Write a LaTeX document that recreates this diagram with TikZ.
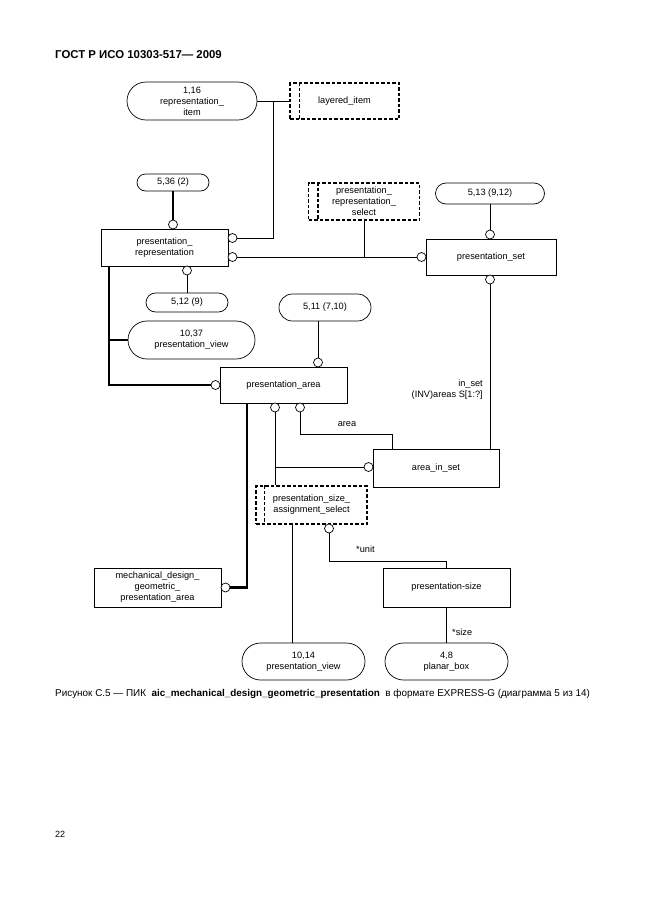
\documentclass[tikz,border=0pt]{standalone}
\usepackage{fontspec}
\setmainfont{Liberation Sans}
\usetikzlibrary{shapes.misc,calc}
\begin{document}
\begin{tikzpicture}[x=1pt,y=-1pt,
  lbl/.style={font=\fontsize{9.2}{11}\selectfont, align=center, inner sep=0pt},
  ent/.style={lbl, draw, line width=0.7pt, rectangle},
  ref/.style={lbl, draw, line width=0.7pt, rounded rectangle},
  sel/.style={lbl, draw, line width=1.3pt, dash pattern=on 3.5pt off 2pt},
  seldash/.style={line width=1.3pt, dash pattern=on 3.5pt off 2pt},
  circ/.style={circle, draw, fill=white, line width=0.7pt, minimum size=9pt, inner sep=0pt},
  ln/.style={line width=0.7pt},
  thk/.style={line width=2.2pt},
  small/.style={font=\fontsize{9.2}{10.5}\selectfont, inner sep=0pt}
]
\useasboundingbox (0,0) rectangle (646,913);
\fill[white] (0,0) rectangle (646,913);

% header, caption, page number
\node[anchor=west, inner sep=0pt, font=\fontsize{11.4}{13}\selectfont\bfseries] (hdr) at (55,55) {ГОСТ Р ИСО 10303-517— 2009};
\node[anchor=west, inner sep=0pt, font=\fontsize{9.9}{12}\selectfont] (cap) at (55,694) {Рисунок С.5 — ПИК\ \ \textbf{aic\_mechanical\_design\_geometric\_presentation}\ \ в формате EXPRESS-G (диаграмма 5 из 14)};
\node[anchor=west, inner sep=0pt, font=\fontsize{9}{11}\selectfont] (pg) at (55,834) {22};

% boxes
\node[ref, minimum width=130pt, minimum height=38pt] (ri) at (192,101) {1,16\\representation\_\\item};
\node[sel, minimum width=109pt, minimum height=36pt] (li) at (344.5,101) {layered\_item};
\node[ref, minimum width=72pt, minimum height=17pt] (p536) at (173,182.5) {5,36 (2)};
\node[ent, minimum width=127pt, minimum height=37pt] (prep) at (164.5,247.5) {presentation\_\\representation};
\node[sel, minimum width=111pt, minimum height=37pt] (prs) at (364,201.5) {presentation\_\\representation\_\\select};
\node[ref, minimum width=109pt, minimum height=21pt] (p513) at (490,193.5) {5,13 (9,12)};
\node[ent, minimum width=130pt, minimum height=36pt] (pset) at (491,257) {presentation\_set};
\node[ref, minimum width=82pt, minimum height=19pt] (p512) at (187,302.5) {5,12 (9)};
\node[ref, minimum width=127pt, minimum height=38pt] (pv1037) at (191.5,340) {10,37\\presentation\_view};
\node[ref, minimum width=92pt, minimum height=27pt] (p511) at (325,307.5) {5,11 (7,10)};
\node[ent, minimum width=127pt, minimum height=36pt] (parea) at (283.5,385) {presentation\_area};
\node[ent, minimum width=126pt, minimum height=38pt] (ais) at (436,468) {area\_in\_set};
\node[sel, minimum width=111pt, minimum height=38pt] (psas) at (311.5,505) {presentation\_size\_\\assignment\_select};
\node[ent, minimum width=127pt, minimum height=39pt] (mdg) at (157.5,587.5) {mechanical\_design\_\\geometric\_\\presentation\_area};
\node[ent, minimum width=127pt, minimum height=39pt] (psize) at (446.5,587.5) {presentation-size};
\node[ref, minimum width=123pt, minimum height=37pt] (pv1014) at (303.5,661.5) {10,14\\presentation\_view};
\node[ref, minimum width=123pt, minimum height=37pt] (pbox) at (446.5,661.5) {4,8\\planar\_box};

% select inner lines
\draw[seldash] ([xshift=10pt]li.north west) -- ([xshift=10pt]li.south west);
\draw[seldash] ([xshift=10pt]prs.north west) -- ([xshift=10pt]prs.south west);
\draw[seldash] ([xshift=9pt]psas.north west) -- ([xshift=9pt]psas.south west);

% circles
\node[circ] (c1) at (232.5,238) {};
\node[circ] (c2) at (173,224.5) {};
\node[circ] (c3) at (232.5,257) {};
\node[circ] (c4) at (421.5,257) {};
\node[circ] (c5) at (490,234.5) {};
\node[circ] (c6) at (490,279.5) {};
\node[circ] (c7) at (187,270.5) {};
\node[circ] (c8) at (215.5,385) {};
\node[circ] (c9) at (318,362.5) {};
\node[circ] (c10) at (275,407.5) {};
\node[circ] (c11) at (300,407.5) {};
\node[circ] (c12) at (368.5,467) {};
\node[circ] (c13) at (225.5,587.5) {};
\node[circ] (c14) at (329,528.5) {};

% connectors
\draw[ln] (ri.east) -- (li.west);
\coordinate (j1) at (273,101);
\draw[ln] (j1) |- (c1.east);
\draw[thk] (p536.south) -- (c2.north);
\draw[ln] (c3.east) -- (c4.west);
\draw[ln] (prs.south) -- (prs.south |- c3);
\draw[ln] (p513.south) -- (c5.north);
\draw[ln] (c6.south) -- (c6.south |- ais.north);
\draw[ln] (c7.south) -- (p512.north);
\coordinate (k1) at ($(prep.south west)+(8,0)$);
\draw[thk] (k1) |- (c8.west);
\draw[thk] (pv1037.west) -- (pv1037.west -| k1);
\draw[ln] (c9.north) -- (c9.north |- p511.south);
\coordinate (k2) at ($(ais.north west)+(20,0)$);
\draw[ln] (c11.south) -- ++(0,21.5) -| (k2);
\draw[ln] (c12.west) -- (c12.west -| c10);
\draw[ln] (c10.south) -- (c10.south |- psas.north);
\coordinate (k3) at ($(parea.south west)+(27,0)$);
\draw[thk] (k3) |- (c13.east);
\draw[ln] (c14.south) -- ++(0,27.5) -| (psize.north);
\coordinate (k4) at ($(psas.south west)+(37,0)$);
\draw[ln] (k4) -- (k4 |- pv1014.north);
\draw[ln] (psize.south) -- (pbox.north);

% labels
\node[small, anchor=base] (larea) at (347,426) {area};
\node[small, anchor=base west] (lunit) at (356,552) {*unit};
\node[small, anchor=base west] (lsize) at (452,635) {*size};
\node[small, anchor=north east, align=right] (linv) at (483,380) {in\_set\\(INV)areas S[1:?]};
\end{tikzpicture}
\end{document}
